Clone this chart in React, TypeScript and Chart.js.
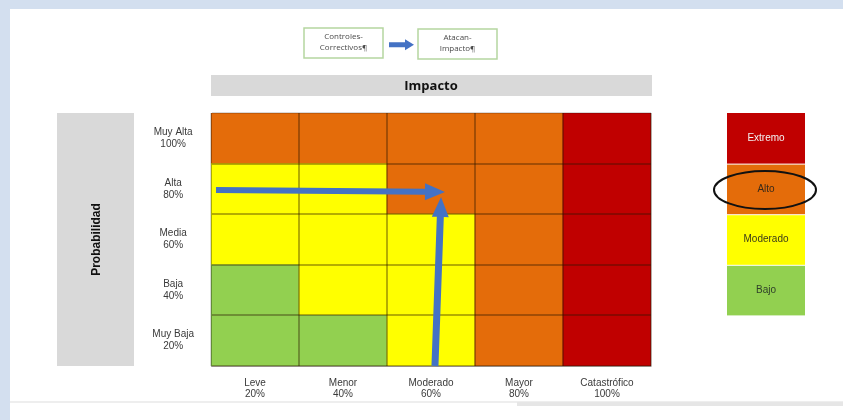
import { useEffect, useRef } from "react";
import { Chart, registerables } from "chart.js";

Chart.register(...registerables);

// ---- data ----
const impactLabels = [
  ["Leve", "20%"],
  ["Menor", "40%"],
  ["Moderado", "60%"],
  ["Mayor", "80%"],
  ["Catastrófico", "100%"],
];
const probabilityLabels = [
  ["Muy Alta", "100%"],
  ["Alta", "80%"],
  ["Media", "60%"],
  ["Baja", "40%"],
  ["Muy Baja", "20%"],
];
const riskLevels = ["Extremo", "Alto", "Moderado", "Bajo"];
const riskColors: Record<string, string> = {
  Extremo: "#C00000",
  Alto: "#E46C0A",
  Moderado: "#FFFF00",
  Bajo: "#92D050",
};
const riskTextColors: Record<string, string> = {
  Extremo: "#F2F2F2",
  Alto: "#3A2A1A",
  Moderado: "#3A3A1A",
  Bajo: "#2F3F2A",
};
// rows of the matrix, from top (Muy Alta) to bottom (Muy Baja)
const rowMuyAlta = ["Alto", "Alto", "Alto", "Alto", "Extremo"];
const rowAlta = ["Moderado", "Moderado", "Alto", "Alto", "Extremo"];
const rowMedia = ["Moderado", "Moderado", "Moderado", "Alto", "Extremo"];
const rowBaja = ["Bajo", "Moderado", "Moderado", "Alto", "Extremo"];
const rowMuyBaja = ["Bajo", "Bajo", "Moderado", "Alto", "Extremo"];
const matrixRowsBottomUp = [rowMuyBaja, rowBaja, rowMedia, rowAlta, rowMuyAlta];

// arrows in data units (x: impact category index, y: probability rows 0-5)
const horizontalArrow = [
  { x: -0.443, y: 3.478 },
  { x: 2.159, y: 3.439 },
];
const verticalArrow = [
  { x: 2.045, y: 0 },
  { x: 2.114, y: 3.34 },
];
const highlightedLevel = "Alto";
const flowBoxes = [
  ["Controles-", "Correctivos¶"],
  ["Atacan-", "Impacto¶"],
];
const xTitle = "Impacto";
const yTitle = "Probabilidad";

const BLUE = "#4472C4";

function drawArrow(
  ctx: CanvasRenderingContext2D,
  x0: number,
  y0: number,
  x1: number,
  y1: number,
  shaft: number,
  headLen: number,
  headW: number
) {
  const dx = x1 - x0;
  const dy = y1 - y0;
  const len = Math.hypot(dx, dy);
  const ux = dx / len;
  const uy = dy / len;
  const nx = -uy;
  const ny = ux;
  const bx = x1 - ux * headLen;
  const by = y1 - uy * headLen;
  ctx.beginPath();
  ctx.moveTo(x0 + nx * shaft / 2, y0 + ny * shaft / 2);
  ctx.lineTo(bx + nx * shaft / 2, by + ny * shaft / 2);
  ctx.lineTo(bx + nx * headW / 2, by + ny * headW / 2);
  ctx.lineTo(x1, y1);
  ctx.lineTo(bx - nx * headW / 2, by - ny * headW / 2);
  ctx.lineTo(bx - nx * shaft / 2, by - ny * shaft / 2);
  ctx.lineTo(x0 - nx * shaft / 2, y0 - ny * shaft / 2);
  ctx.closePath();
  ctx.fill();
}

const decorPlugin = {
  id: "decor",
  beforeDraw(chart: any) {
    const { ctx, chartArea: a, width, height } = chart;
    ctx.save();
    ctx.fillStyle = "#FFFFFF";
    ctx.fillRect(0, 0, width, height);
    // frame
    ctx.fillStyle = "#D3DFEF";
    ctx.fillRect(0, 0, width, 9);
    ctx.fillRect(0, 0, 10, height);
    // bottom line
    ctx.fillStyle = "#EEEEEE";
    ctx.fillRect(10, 401, width - 10, 2);
    ctx.fillStyle = "#E6E6E6";
    ctx.fillRect(517, 402, width - 517, 4);

    // Impacto bar
    ctx.fillStyle = "#D9D9D9";
    ctx.fillRect(a.left, a.top - 38, a.right - a.left + 1, 21);
    ctx.fillStyle = "#111111";
    ctx.font = "bold 13px 'Open Sans'";
    ctx.textAlign = "center";
    ctx.textBaseline = "middle";
    ctx.fillText(xTitle, (a.left + a.right) / 2, a.top - 27);

    // Probabilidad box
    ctx.fillStyle = "#D9D9D9";
    ctx.fillRect(57, a.top, 77, a.bottom - a.top);
    ctx.save();
    ctx.translate(97, (a.top + a.bottom) / 2);
    ctx.rotate(-Math.PI / 2);
    ctx.fillStyle = "#111111";
    ctx.font = "bold 12px 'Liberation Sans'";
    ctx.fillText(yTitle, 0, 0);
    ctx.restore();

    // flow boxes
    const boxes = [
      { x: 304, y: 28, w: 79, h: 30 },
      { x: 418, y: 29, w: 79, h: 30 },
    ];
    boxes.forEach((b, i) => {
      ctx.fillStyle = "#FFFFFF";
      ctx.fillRect(b.x, b.y, b.w, b.h);
      ctx.strokeStyle = "#B5D6A0";
      ctx.lineWidth = 1.5;
      ctx.strokeRect(b.x, b.y, b.w, b.h);
      ctx.fillStyle = "#4A4A4A";
      ctx.font = "8px 'Open Sans'";
      ctx.fillText(flowBoxes[i][0], b.x + b.w / 2, b.y + 9);
      ctx.fillText(flowBoxes[i][1], b.x + b.w / 2, b.y + 20);
    });
    ctx.fillStyle = BLUE;
    drawArrow(ctx, 389, 44.7, 414, 44.7, 5, 9, 11);
    ctx.restore();
  },
  afterDraw(chart: any) {
    const { ctx, chartArea: a } = chart;
    const xs = chart.scales.x;
    const ys = chart.scales.y;
    ctx.save();
    // arrows
    ctx.fillStyle = BLUE;
    [horizontalArrow, verticalArrow].forEach((arr, i) => {
      const p0 = arr[0];
      const p1 = arr[1];
      drawArrow(
        ctx,
        xs.getPixelForValue(p0.x),
        ys.getPixelForValue(p0.y),
        xs.getPixelForValue(p1.x),
        ys.getPixelForValue(p1.y),
        i === 0 ? 6 : 7,
        20,
        17
      );
    });

    // risk legend
    const lx = a.right + 76;
    const lw = 78;
    riskLevels.forEach((lvl, i) => {
      const top = ys.getPixelForValue(5 - i);
      const bot = ys.getPixelForValue(4 - i);
      ctx.fillStyle = riskColors[lvl];
      ctx.fillRect(lx, top + (i === 0 ? 0 : 1), lw, bot - top - (i === 0 ? 0 : 1));
      ctx.fillStyle = riskTextColors[lvl];
      ctx.font = "10px 'Liberation Sans'";
      ctx.textAlign = "center";
      ctx.textBaseline = "middle";
      ctx.fillText(lvl, lx + lw / 2, (top + bot) / 2);
      if (lvl === highlightedLevel) {
        ctx.beginPath();
        ctx.ellipse(lx + lw / 2 - 1, (top + bot) / 2 + 1, 51, 19, 0, 0, Math.PI * 2);
        ctx.strokeStyle = "#111111";
        ctx.lineWidth = 2;
        ctx.stroke();
      }
    });
    ctx.restore();
  },
};

const gridColor = (c: any) =>
  c.index === 0 ? "rgba(0,0,0,0.15)" : "rgba(40,20,0,0.35)";

export default function App() {
  const ref = useRef<HTMLCanvasElement | null>(null);
  useEffect(() => {
    document.body.style.margin = "0";
    const canvas = ref.current!;
    const datasets = matrixRowsBottomUp.map((row, i) => ({
      label: probabilityLabels[4 - i].join(" "),
      data: row.map(() => 1),
      backgroundColor: row.map((l) => riskColors[l]),
      borderWidth: 0,
      barPercentage: 1,
      categoryPercentage: 1,
    }));
    const chart = new Chart(canvas, {
      type: "bar",
      data: { labels: impactLabels as any, datasets },
      plugins: [decorPlugin],
      options: {
        animation: false,
        responsive: false,
        events: [],
        layout: { padding: { left: 136, right: 192, top: 113, bottom: 14 } },
        plugins: { legend: { display: false }, tooltip: { enabled: false } },
        scales: {
          x: {
            stacked: true,
            offset: true,
            grid: { offset: true, drawTicks: false, color: gridColor, lineWidth: 2, z: 1 },
            border: { color: "rgba(0,0,0,0.2)", width: 1, z: 1 },
            ticks: {
              padding: 11,
              color: "#3A3A3A",
              font: { family: "'Liberation Sans'", size: 10, lineHeight: 1.15 },
              maxRotation: 0,
              autoSkip: false,
            },
            afterFit(s: any) {
              s.height = 40;
            },
          },
          y: {
            stacked: true,
            display: false,
            min: 0,
            max: 5,
          },
          y2: {
            type: "category",
            labels: probabilityLabels as any,
            position: "left",
            offset: true,
            grid: { offset: true, drawTicks: false, color: gridColor, lineWidth: 2, z: 1 },
            border: { color: "rgba(0,0,0,0.2)", width: 1, z: 1 },
            ticks: {
              padding: 17,
              crossAlign: "center",
              color: "#3A3A3A",
              font: { family: "'Liberation Sans'", size: 10, lineHeight: 1.2 },
              autoSkip: false,
            },
            afterFit(s: any) {
              s.width = 75;
            },
          },
        },
      } as any,
    });
    return () => chart.destroy();
  }, []);
  return (
    <canvas
      ref={ref}
      width={843}
      height={420}
      style={{ display: "block", width: 843, height: 420 }}
    />
  );
}
